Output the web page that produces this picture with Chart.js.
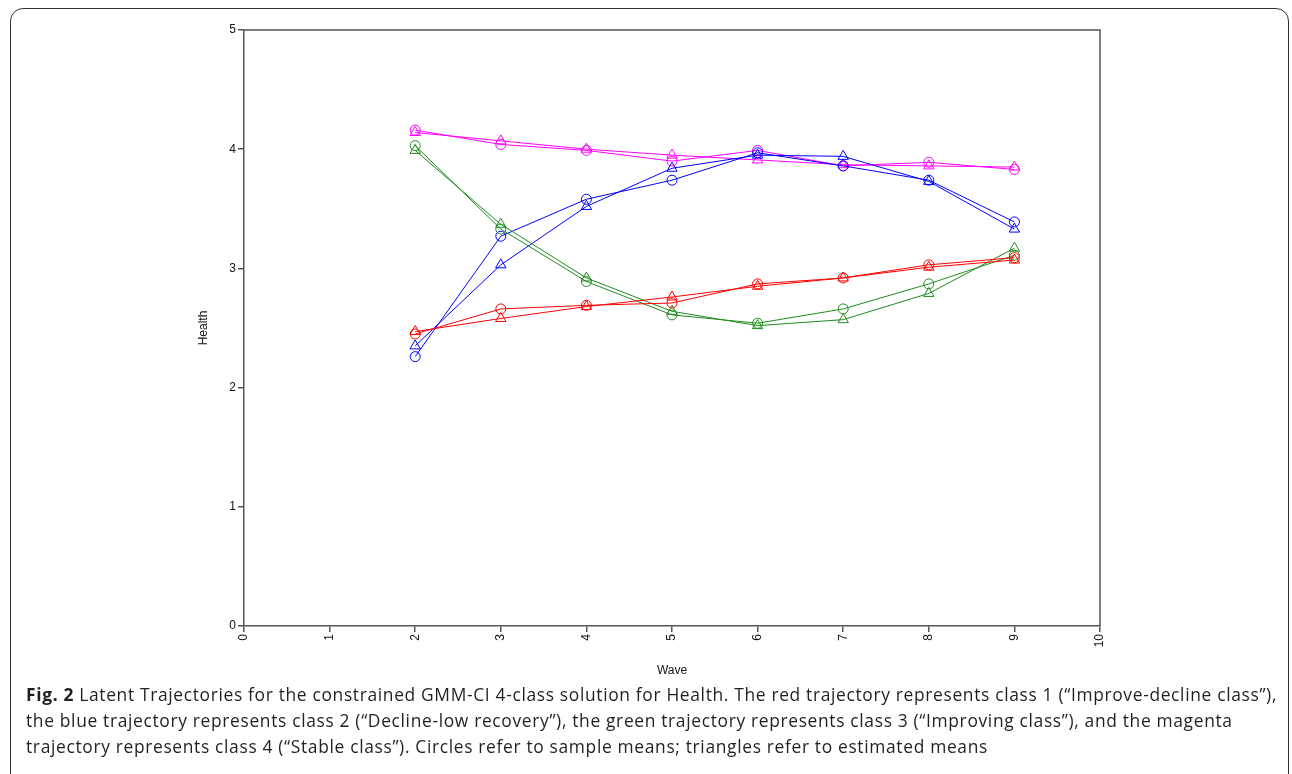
<!DOCTYPE html>
<html>
<head>
<meta charset="utf-8">
<script src="https://cdn.jsdelivr.net/npm/chart.js@4.4.1/dist/chart.umd.min.js"></script>
<style>
  html, body { margin: 0; padding: 0; background: #fff; }
  body { width: 1292px; height: 774px; position: relative; overflow: hidden; }
  #frame {
    position: absolute; left: 10px; top: 8px; width: 1279px; height: 780px;
    border: 1.5px solid #333; border-radius: 13px; box-sizing: border-box;
  }
  #wrap { position: absolute; left: 0; top: 0; width: 1292px; height: 690px; }
  #caption {
    position: absolute; left: 26px; top: 681px; width: 1266px;
    font-family: "Open Sans", "Noto Sans", sans-serif; font-size: 17.4px;
    letter-spacing: 0.66px; line-height: 26px; color: #231f20; white-space: nowrap;
  }
  #caption b { font-weight: 700; }
</style>
</head>
<body>
<div id="frame"></div>
<div id="wrap"><canvas id="chart" width="1292" height="690"></canvas></div>
<div id="caption">
  <b>Fig. 2</b> Latent Trajectories for the constrained GMM-CI 4-class solution for Health. The red trajectory represents class 1 (“Improve-decline class”),<br>
  the blue trajectory represents class 2 (“Decline-low recovery”), the green trajectory represents class 3 (“Improving class”), and the magenta<br>
  trajectory represents class 4 (“Stable class”). Circles refer to sample means; triangles refer to estimated means
</div>
<script>
// waves on the x axis
const waves = [2, 3, 4, 5, 6, 7, 8, 9];
const xTicks = [0, 1, 2, 3, 4, 5, 6, 7, 8, 9, 10];
const yTicks = [0, 1, 2, 3, 4, 5];

// class 1 - improve-decline (red)
const redSample    = [2.45, 2.66, 2.69, 2.71, 2.87, 2.92, 3.03, 3.09];
const redEstimated = [2.47, 2.58, 2.68, 2.76, 2.85, 2.92, 3.01, 3.07];
// class 2 - decline-low recovery (blue)
const blueSample    = [2.26, 3.27, 3.58, 3.74, 3.97, 3.86, 3.74, 3.39];
const blueEstimated = [2.35, 3.03, 3.52, 3.84, 3.95, 3.94, 3.73, 3.33];
// class 3 - improving (green)
const greenSample    = [4.03, 3.33, 2.89, 2.61, 2.54, 2.66, 2.87, 3.11];
const greenEstimated = [3.99, 3.37, 2.92, 2.64, 2.52, 2.57, 2.79, 3.17];
// class 4 - stable (magenta)
const magentaSample    = [4.16, 4.04, 3.99, 3.90, 3.99, 3.86, 3.89, 3.83];
const magentaEstimated = [4.14, 4.07, 4.00, 3.95, 3.91, 3.87, 3.86, 3.85];

const axisColor = '#555';
const font = { family: '"Liberation Sans", Arial, sans-serif', size: 12 };

function pts(vals) {
  return vals.map((v, i) => ({ x: waves[i], y: v }));
}

function series(label, vals, color, style) {
  return {
    label: label,
    data: pts(vals),
    borderColor: color,
    backgroundColor: 'rgba(0,0,0,0)',
    borderWidth: 1,
    pointStyle: style,
    pointRadius: style === 'triangle' ? 6 : 5,
    pointBorderWidth: 1,
    pointBorderColor: color,
    pointBackgroundColor: 'rgba(0,0,0,0)',
    tension: 0,
    fill: false
  };
}

// draws the top and right sides of the plot box
const boxPlugin = {
  id: 'box',
  afterDraw(chart) {
    const a = chart.chartArea;
    const c = chart.ctx;
    c.save();
    c.strokeStyle = axisColor;
    c.lineWidth = 1.5;
    c.beginPath();
    c.moveTo(a.left, a.top);
    c.lineTo(a.right, a.top);
    c.lineTo(a.right, a.bottom);
    c.stroke();
    c.restore();
  }
};

new Chart(document.getElementById('chart'), {
  type: 'line',
  data: {
    datasets: [
      series('Class 1 sample', redSample, '#ff0000', 'circle'),
      series('Class 1 estimated', redEstimated, '#ff0000', 'triangle'),
      series('Class 3 sample', greenSample, '#1e8c1e', 'circle'),
      series('Class 3 estimated', greenEstimated, '#1e8c1e', 'triangle'),
      series('Class 2 sample', blueSample, '#0000ff', 'circle'),
      series('Class 2 estimated', blueEstimated, '#0000ff', 'triangle'),
      series('Class 4 sample', magentaSample, '#ff00ff', 'circle'),
      series('Class 4 estimated', magentaEstimated, '#ff00ff', 'triangle')
    ]
  },
  options: {
    responsive: false,
    animation: false,
    layout: { padding: { left: 180, top: 30, right: 192, bottom: 12 } },
    plugins: { legend: { display: false }, tooltip: { enabled: false } },
    scales: {
      x: {
        type: 'linear',
        min: 0,
        max: 10,
        afterFit(scale) { scale.height = 52; },
        afterBuildTicks(scale) { scale.ticks = xTicks.map(v => ({ value: v })); },
        grid: { drawOnChartArea: false, drawTicks: true, tickLength: 6, color: axisColor, lineWidth: 1.5 },
        border: { display: true, color: axisColor, width: 1.5 },
        ticks: { font: font, color: '#111', minRotation: 90, maxRotation: 90, padding: 2 },
        title: { display: true, text: 'Wave', font: font, color: '#111', padding: 0 }
      },
      y: {
        min: 0,
        max: 5,
        afterFit(scale) { scale.width = 64; },
        afterBuildTicks(scale) { scale.ticks = yTicks.map(v => ({ value: v })); },
        grid: { drawOnChartArea: false, drawTicks: true, tickLength: 6, color: axisColor, lineWidth: 1.5 },
        border: { display: true, color: axisColor, width: 1.5 },
        ticks: { font: font, color: '#111', padding: 2 },
        title: { display: true, text: 'Health', font: font, color: '#111', padding: 16 }
      }
    }
  },
  plugins: [boxPlugin]
});
</script>
</body>
</html>
